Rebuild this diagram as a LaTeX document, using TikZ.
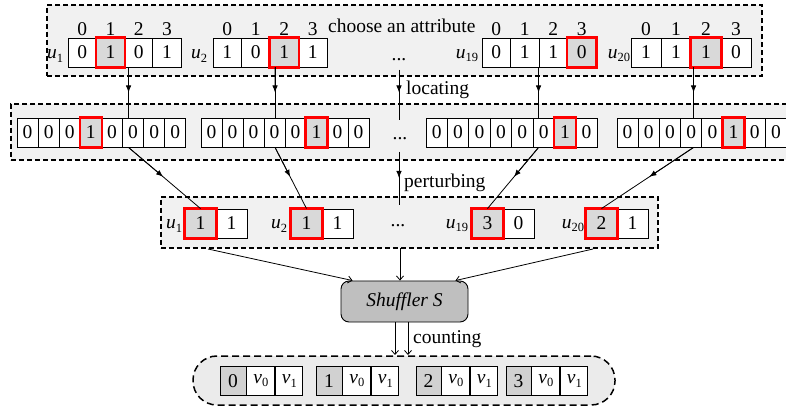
\documentclass[tikz,border=0pt]{standalone}
\usepackage{fontspec}
\setmainfont{Liberation Serif}
\usetikzlibrary{calc,arrows.meta}

% italic letter with a small lowered index
\newcommand{\lab}[2]{\textit{#1}\raisebox{-0.35ex}{\fontsize{12.5}{13}\selectfont #2}}

\definecolor{boxgray}{gray}{0.945}
\definecolor{hotgray}{gray}{0.85}
\definecolor{keygray}{gray}{0.82}
\definecolor{shufgray}{gray}{0.75}
\definecolor{ovalgray}{gray}{0.92}

\tikzset{
  every node/.style={font=\fontsize{19.5}{21}\selectfont},
  dbox/.style={draw, line width=1.2pt, dash pattern=on 5pt off 3pt, fill=boxgray, inner sep=0pt},
  cell/.style={draw, line width=0.9pt, fill=white, minimum height=29pt, inner sep=0pt},
  hotframe/.style={draw=red, line width=2.4pt},
  conn/.style={line width=0.8pt},
  tip/.style={-{Latex[length=7pt,width=5.5pt]}},
  barb/.style={-{Straight Barb[length=4pt,width=7pt]}},
  shufbox/.style={draw, line width=0.9pt, fill=shufgray, rounded corners=8pt, inner sep=0pt},
  txt/.style={inner sep=0pt}
}

% a row of boxed values: name, left edge, centre height, cell width, values/fills
\newcommand{\cellrow}[5]{%
  \foreach \v/\f [count=\i from 0] in {#5}
    \node[cell, fill=\f, minimum width=#4pt] (#1-\i) at ({#2+#4*(\i+0.5)}, #3) {\v};
}
\newcommand{\hot}[1]{\draw[hotframe] (#1.north west) rectangle (#1.south east);}

\begin{document}
\begin{tikzpicture}[x=1pt, y=-1pt]
\useasboundingbox (0,0) rectangle (786,411);
\fill[white] (0,0) rectangle (786,411);
\clip (0,0) rectangle (786,411);

% dashed frames and the shuffler
\node[dbox, minimum width=715pt, minimum height=71pt] (boxA) at (404.5,40.5) {};
\node[dbox, minimum width=792pt, minimum height=56pt] (boxB) at (407,132) {};
\node[dbox, minimum width=497pt, minimum height=51pt] (boxC) at (409.5,222.5) {};
\node[dbox, fill=ovalgray, line width=1.5pt, dash pattern=on 7pt off 4pt, rounded corners=24pt, minimum width=422pt, minimum height=49pt] (boxD) at (404,380.5) {};
\node[shufbox, minimum width=127pt, minimum height=41pt] (shuf) at (404.5,301.5) {\textit{Shuffler S}};

% first row: users with one bit per attribute
\cellrow{a1}{68}{52.5}{28.25}{0/white,1/hotgray,0/white,1/white}
\cellrow{a2}{213}{52.5}{28.5}{1/white,0/white,1/hotgray,1/white}
\cellrow{a3}{482}{52.5}{28.5}{0/white,1/white,1/white,0/hotgray}
\cellrow{a4}{631}{52.5}{30}{1/white,1/white,1/hotgray,0/white}
\hot{a1-1}\hot{a2-2}\hot{a3-3}\hot{a4-2}
\coordinate (hy) at (0,29);
\foreach \r in {1,...,4}
  \foreach \i in {0,...,3}
    \node[txt] (h\r-\i) at (a\r-\i |- hy) {\i};

\node[txt] (ua1) at (55,56) {\lab{u}{1}};
\node[txt] (ua2) at (199,56) {\lab{u}{2}};
\node[txt] (ua3) at (467,56) {\lab{u}{19}};
\node[txt] (ua4) at (619,56) {\lab{u}{20}};
\node[txt, anchor=west] (choose) at (328,26) {choose an attribute};
\node[txt] (dA) at (399,60) {...};

% second row: located one-hot vectors
\cellrow{b1}{17}{132.5}{21.1}{0/white,0/white,0/white,1/hotgray,0/white,0/white,0/white,0/white}
\cellrow{b2}{201}{132.5}{21}{0/white,0/white,0/white,0/white,0/white,1/hotgray,0/white,0/white}
\cellrow{b3}{426}{132.5}{21.4}{0/white,0/white,0/white,0/white,0/white,0/white,1/hotgray,0/white}
\cellrow{b4}{617}{132.5}{21.2}{0/white,0/white,0/white,0/white,0/white,1/hotgray,0/white,0/white}
\hot{b1-3}\hot{b2-5}\hot{b3-6}\hot{b4-5}
\node[txt] (dB) at (400,139) {...};
\node[txt, anchor=west] (locating) at (406,90) {locating};

% third row: perturbed reports
\cellrow{c1}{185}{223.5}{31}{1/hotgray,1/white}
\cellrow{c2}{291}{223.5}{31}{1/hotgray,1/white}
\cellrow{c3}{472}{223.5}{31}{3/hotgray,0/white}
\cellrow{c4}{586}{223.5}{31}{2/hotgray,1/white}
\hot{c1-0}\hot{c2-0}\hot{c3-0}\hot{c4-0}
\node[txt] (uc1) at (174,226) {\lab{u}{1}};
\node[txt] (uc2) at (279,226) {\lab{u}{2}};
\node[txt] (uc3) at (457,226) {\lab{u}{19}};
\node[txt] (uc4) at (573,226) {\lab{u}{20}};
\node[txt] (dC) at (398,226) {...};
\node[txt, anchor=west] (perturbing) at (404,183) {perturbing};

% counting result
\cellrow{d1}{220}{381}{26}{0/keygray}
\cellrow{d2}{316}{381}{26}{1/keygray}
\cellrow{d3}{416}{381}{25}{2/keygray}
\cellrow{d4}{506}{381}{25}{3/keygray}
\foreach \k in {1,...,4} {
  \node[cell, minimum width=28pt, anchor=west] (v\k-0) at (d\k-0.east) {\lab{v}{0}};
  \node[cell, minimum width=27pt, anchor=west] (v\k-1) at (v\k-0.east) {\lab{v}{1}};
}
\node[txt, anchor=west] (counting) at (413,339) {counting};

% locating arrows
\coordinate (s1) at ($(a1-2.south west)+(4.5,0)$);
\coordinate (s2) at ($(a2-2.south west)+(5.5,0)$);
\coordinate (s3) at (a3-2.south west);
\coordinate (s4) at ($(a4-2.south west)+(3,0)$);
\foreach \k in {1,...,4} {
  \coordinate (t\k) at (s\k |- b1-0.north);
  \coordinate (m\k) at (s\k |- b1-0.south);
  \draw[conn] (s\k) -- (t\k);
  \draw[conn, tip] (s\k) -- ($(s\k)!0.5!(t\k)$);
  \draw[conn] (m\k) -- (c\k-0.north);
  \draw[conn, tip] (m\k) -- ($(m\k)!0.48!(c\k-0.north)$);
}

% step arrows through the middle
\coordinate (l1) at (399,70);
\coordinate (l2) at (399,120);
\draw[conn] (l1) -- (l2);
\draw[conn, tip] (l1) -- ($(l1)!0.45!(l2)$);
\coordinate (p1) at (399,152);
\coordinate (p2) at (399,205);
\draw[conn] (p1) -- (p2);
\draw[conn, tip] (p1) -- ($(p1)!0.49!(p2)$);

% into the shuffler
\coordinate (q1) at (208,249);
\coordinate (q2) at (400,248);
\coordinate (q3) at (593,249);
\draw[conn, barb] (q1) -- ($(shuf.north west)+(12,0)$);
\draw[conn, barb] (q2) -- (q2 |- shuf.north);
\draw[conn, barb] (q3) -- ($(shuf.north east)+(-13,0)$);

% out of the shuffler
\coordinate (k1) at (395,355);
\coordinate (k2) at (408,355);
\draw[conn, barb] (k1 |- shuf.south) -- (k1);
\draw[conn, barb] (k2 |- shuf.south) -- (k2);
\end{tikzpicture}
\end{document}
